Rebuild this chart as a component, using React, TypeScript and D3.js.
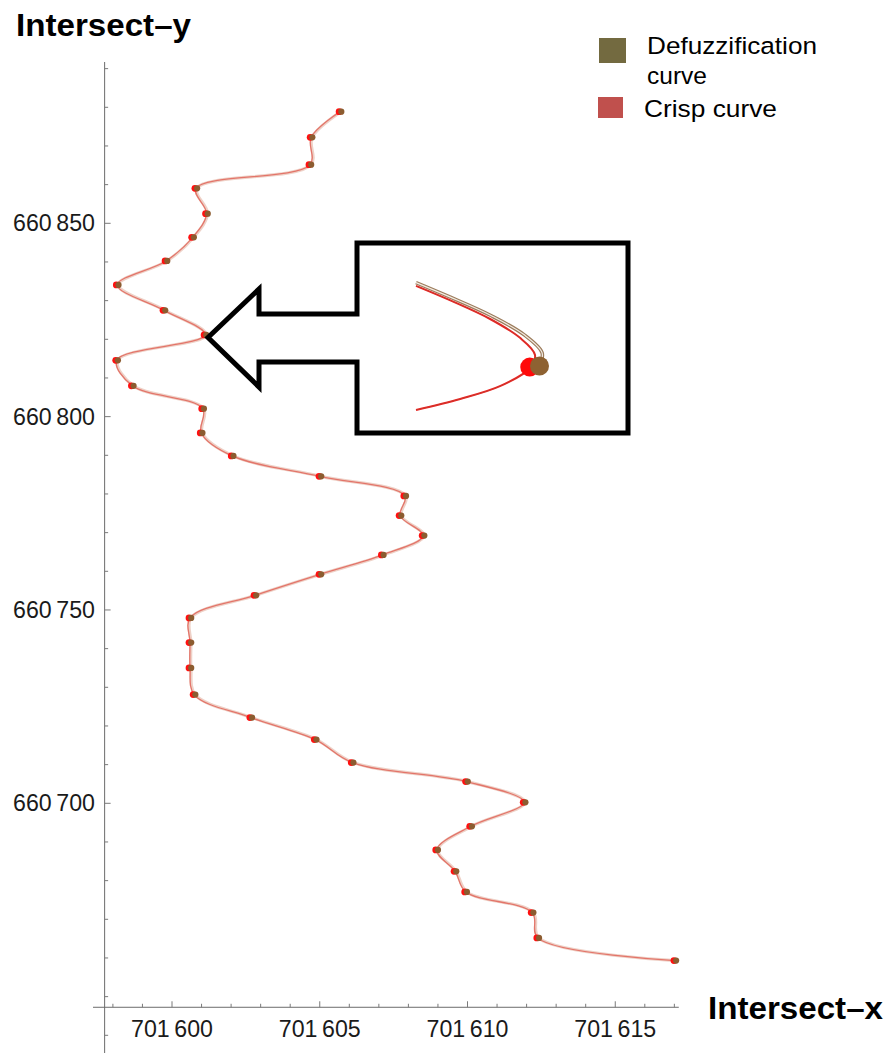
import React from "react";
import * as d3 from "d3";

// Intersection points (x = Intersect-x, y = Intersect-y)
const crispX = [
  701605.69, 701604.71, 701604.67, 701600.81, 701601.17, 701600.70, 701599.80, 701598.15,
  701599.73, 701601.12, 701598.13, 701598.66, 701601.04, 701600.99, 701602.04, 701605.01,
  701607.88, 701607.72, 701608.50, 701607.12, 701605.01, 701602.81, 701600.61, 701600.61,
  701600.61, 701600.75, 701602.67, 701604.85, 701606.10, 701609.97, 701611.92, 701610.11,
  701608.96, 701609.58, 701609.94, 701612.19, 701612.38, 701617.02,
];
const crispY = [
  660878.87, 660872.23, 660865.17, 660859.04, 660852.50, 660846.37, 660840.26, 660834.06,
  660827.49, 660821.13, 660814.56, 660807.96, 660802.07, 660795.78, 660789.84, 660784.56,
  660779.49, 660774.40, 660769.23, 660764.24, 660759.22, 660753.79, 660747.94, 660741.56,
  660735.01, 660728.11, 660722.16, 660716.47, 660710.53, 660705.61, 660700.26, 660694.05,
  660687.95, 660682.42, 660677.09, 660671.74, 660665.19, 660659.32,
];
// Defuzzified points are virtually identical to crisp ones at this scale
const defuzzX = crispX.map((v) => v + 0.03);
const defuzzY = crispY.slice();

const xTickMajor = [701600, 701605, 701610, 701615];
const xTickLabels = ["701\u2009600", "701\u2009605", "701\u2009610", "701\u2009615"];
const yTickMajor = [660700, 660750, 660800, 660850];
const yTickLabels = ["660\u2009700", "660\u2009750", "660\u2009800", "660\u2009850"];

const legendNames = ["Defuzzification", "Crisp curve"];
const legendColors = ["#736a40", "#c0504d"];

// Inset (schematic magnification around one turning point), in inset units 0..10
const insetCrispU = [0, 2.6, 5.7, 8.0, 9.15, 8.8, 6.5, 3.4, 0];
const insetCrispV = [0.45, 1.55, 3.0, 4.45, 5.75, 6.75, 8.15, 9.15, 10];
const insetDefuzzU = [0, 2.6, 5.8, 8.3, 9.7, 9.5];
const insetDefuzzV = [0.2, 1.3, 2.75, 4.2, 5.6, 6.6];
const insetCrispDot = [8.75, 6.7];
const insetDefuzzDot = [9.5, 6.62];

const FONT = "'Liberation Sans', Arial, Helvetica, sans-serif";

export default function App() {
  const W = 895;
  const H = 1053;
  const x = d3.scaleLinear().domain([701600, 701615]).range([172, 615.25]);
  const y = d3.scaleLinear().domain([660700, 660850]).range([803.3, 223.3]);

  const xAxisAt = 660647.25;
  const yAxisAt = 701597.72;
  const xAxisY = y(xAxisAt);
  const yAxisX = x(yAxisAt);

  const xMinor = d3.range(701598, 701618, 1);
  const yMinor = d3.range(660640, 660900, 10);

  const crisp = crispX.map((v, i) => [x(v), y(crispY[i])] as [number, number]);
  const defuzz = defuzzX.map((v, i) => [x(v), y(defuzzY[i])] as [number, number]);
  const line = d3.line().curve(d3.curveCatmullRom.alpha(0.5));

  // inset scales
  const ix = d3.scaleLinear().domain([0, 10]).range([416, 546]);
  const iy = d3.scaleLinear().domain([0, 10]).range([280, 410]);
  const insetLine = d3.line().curve(d3.curveCatmullRom.alpha(0.5));
  const insetCrisp = insetCrispU.map((u, i) => [ix(u), iy(insetCrispV[i])] as [number, number]);
  const insetDefuzz = insetDefuzzU.map((u, i) => [ix(u), iy(insetDefuzzV[i])] as [number, number]);

  // Arrow + box outline
  const bx0 = 357, bx1 = 628, by0 = 243, by1 = 433;
  const shaftTop = 314, shaftBot = 362, headX = 259, headTop = 289, headBot = 387, tipX = 208, tipY = 337.5;
  const calloutPath = d3.path();
  calloutPath.moveTo(bx0, shaftTop);
  calloutPath.lineTo(headX, shaftTop);
  calloutPath.lineTo(headX, headTop);
  calloutPath.lineTo(tipX, tipY);
  calloutPath.lineTo(headX, headBot);
  calloutPath.lineTo(headX, shaftBot);
  calloutPath.lineTo(bx0, shaftBot);
  calloutPath.lineTo(bx0, by1);
  calloutPath.lineTo(bx1, by1);
  calloutPath.lineTo(bx1, by0);
  calloutPath.lineTo(bx0, by0);
  calloutPath.closePath();

  return (
    <svg
      width={W}
      height={H}
      style={{ position: "absolute", left: 0, top: 0, background: "#fff" }}
      fontFamily={FONT}
    >
      <rect x={0} y={0} width={W} height={H} fill="#fff" />

      {/* Axes */}
      <line x1={yAxisX} x2={yAxisX} y1={62} y2={H} stroke="#6b6b6b" strokeWidth={1} />
      <line x1={93} x2={x(701617.15)} y1={xAxisY} y2={xAxisY} stroke="#6b6b6b" strokeWidth={1} />

      {xMinor.map((v) => {
        const major = v % 5 === 0;
        return (
          <line
            key={"xt" + v}
            x1={x(v)}
            x2={x(v)}
            y1={xAxisY}
            y2={xAxisY - (major ? 6 : 3.5)}
            stroke="#7a7a7a"
            strokeWidth={1}
          />
        );
      })}
      {yMinor.map((v) => {
        const major = v % 50 === 0;
        return (
          <line
            key={"yt" + v}
            x1={yAxisX}
            x2={yAxisX + (major && v >= 660700 ? 6 : 3.5)}
            y1={y(v)}
            y2={y(v)}
            stroke="#7a7a7a"
            strokeWidth={1}
          />
        );
      })}

      {xTickMajor.map((v, i) => (
        <text
          key={"xl" + v}
          x={x(v)}
          y={1037}
          fontSize={23}
          textAnchor="middle"
          fill="#1a1a1a"
          textLength={82}
          lengthAdjust="spacingAndGlyphs"
        >
          {xTickLabels[i]}
        </text>
      ))}
      {yTickMajor.map((v, i) => (
        <text
          key={"yl" + v}
          x={95}
          y={y(v) + 8}
          fontSize={23}
          textAnchor="end"
          fill="#1a1a1a"
          textLength={82}
          lengthAdjust="spacingAndGlyphs"
        >
          {yTickLabels[i]}
        </text>
      ))}

      <text x={16} y={36} fontSize={31} fontWeight="bold" fill="#000" textLength={175} lengthAdjust="spacingAndGlyphs">
        Intersect–y
      </text>
      <text x={708} y={1019} fontSize={31} fontWeight="bold" fill="#000" textLength={175} lengthAdjust="spacingAndGlyphs">
        Intersect–x
      </text>

      {/* Curves */}
      <path d={line(defuzz) || ""} fill="none" stroke="#e8c2b4" strokeWidth={3.2} strokeOpacity={0.75} />
      <path d={line(crisp) || ""} fill="none" stroke="#e3756a" strokeWidth={1.3} />

      {/* Points */}
      {crisp.map(([cx, cy], i) => (
        <circle key={"c" + i} cx={cx - 1} cy={cy} r={3.4} fill="#ff1010" />
      ))}
      {defuzz.map(([cx, cy], i) => (
        <circle key={"d" + i} cx={cx + 0.3} cy={cy} r={3.1} fill="#8c5c30" />
      ))}

      {/* Callout */}
      <path d={calloutPath.toString()} fill="#fff" stroke="#000" strokeWidth={5} strokeLinejoin="miter" />
      <path d={insetLine(insetDefuzz) || ""} fill="none" stroke="#9c7c5c" strokeWidth={3.6} />
      <path d={insetLine(insetDefuzz) || ""} fill="none" stroke="#f3ece4" strokeWidth={1.2} />
      <path d={insetLine(insetCrisp) || ""} fill="none" stroke="#f02020" strokeWidth={2} />
      <path d={insetLine(insetCrisp) || ""} fill="none" stroke="#a0503c" strokeWidth={0.8} strokeOpacity={0.6} />
      <circle cx={ix(insetCrispDot[0])} cy={iy(insetCrispDot[1])} r={9.5} fill="#ff0a0a" />
      <circle cx={ix(insetDefuzzDot[0])} cy={iy(insetDefuzzDot[1])} r={9.5} fill="#8e6232" />

      {/* Legend */}
      <rect x={599} y={38} width={27} height={25} fill={legendColors[0]} />
      <text x={647} y={54} fontSize={24.5} fill="#000" textLength={170} lengthAdjust="spacingAndGlyphs">
        {legendNames[0]}
      </text>
      <text x={647} y={84} fontSize={24.5} fill="#000">
        curve
      </text>
      <rect x={598} y={97} width={25} height={21} fill={legendColors[1]} />
      <text x={644} y={117} fontSize={24.5} fill="#000" textLength={133} lengthAdjust="spacingAndGlyphs">
        {legendNames[1]}
      </text>
    </svg>
  );
}
